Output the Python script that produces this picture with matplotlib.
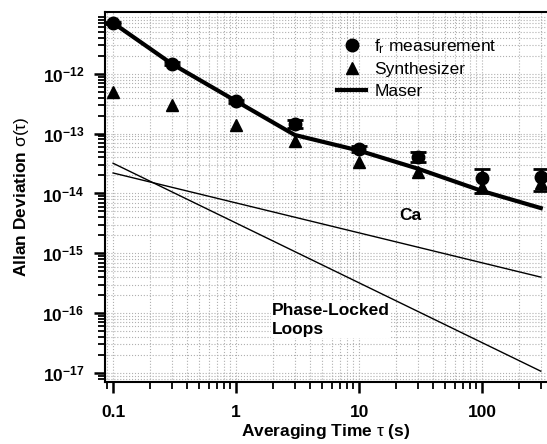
import numpy as np
import matplotlib
matplotlib.use("Agg")
import matplotlib.pyplot as plt
from matplotlib.lines import Line2D
from matplotlib.ticker import FixedLocator, LogLocator, NullFormatter, FuncFormatter

plt.rcParams['font.family'] = ['Liberation Sans', 'DejaVu Sans']
plt.rcParams['mathtext.fontset'] = 'custom'
plt.rcParams['mathtext.rm'] = 'Liberation Sans'
plt.rcParams['mathtext.bf'] = 'Liberation Sans:bold'
plt.rcParams['mathtext.it'] = 'Liberation Sans:italic'

# ---- data ----
tau = [0.1, 0.3, 1, 3, 10, 30, 100, 300]
fr_meas = [7.1e-12, 1.47e-12, 3.5e-13, 1.47e-13, 5.6e-14, 4.0e-14, 1.8e-14, 1.85e-14]
fr_err_lo = [0.3e-12, 0.08e-12, 0.2e-13, 0.22e-13, 0.6e-14, 0.7e-14, 0.8e-14, 0.75e-14]
fr_err_hi = [0.3e-12, 0.08e-12, 0.2e-13, 0.22e-13, 0.7e-14, 1.0e-14, 0.8e-14, 0.75e-14]
synth = [5.0e-13, 3.0e-13, 1.4e-13, 7.5e-14, 3.4e-14, 2.3e-14, 1.3e-14, 1.5e-14]
maser = [7.1e-12, 1.47e-12, 3.5e-13, 9.5e-14, 5.2e-14, 2.6e-14, 1.1e-14, 5.7e-15]
ca_tau = [0.1, 300]
ca_vals = [2.2e-14, 4.0e-16]
pll_tau = [0.1, 300]
pll_vals = [3.2e-14, 1.07e-17]
xticks = [0.1, 1, 10, 100]
xticklabels = ['0.1', '1', '10', '100']
yticks = [1e-17, 1e-16, 1e-15, 1e-14, 1e-13, 1e-12]
legend_labels = [r'f$_\mathrm{r}$ measurement', 'Synthesizer', 'Maser']

fig = plt.figure(figsize=(5.47, 4.44), dpi=100)
ax = fig.add_axes([0.192, 0.140, 0.808, 0.833])
ax.set_xscale('log')
ax.set_yscale('log')
ax.set_xlim(0.086, 337)
ax.set_ylim(7.1e-18, 1.08e-11)

ax.grid(True, which='both', color='#b0b0b0', linestyle=':', linewidth=0.8)
ax.set_axisbelow(True)

ax.plot(ca_tau, ca_vals, color='black', lw=1.0)
ax.plot(pll_tau, pll_vals, color='black', lw=1.0)
ax.plot(tau, maser, color='black', lw=3.0, zorder=3)
ax.plot(tau, synth, linestyle='none', marker='^', color='black', markersize=8, zorder=4)
ax.errorbar(tau, fr_meas, yerr=[fr_err_lo, fr_err_hi], fmt='o', color='black',
            markersize=9, capsize=6, capthick=2, elinewidth=2, zorder=5)

for s in ['left', 'bottom', 'top']:
    ax.spines[s].set_linewidth(1.5)
ax.spines['right'].set_visible(False)

ax.xaxis.set_major_locator(FixedLocator(xticks))
ax.set_xticklabels(xticklabels)
ax.xaxis.set_minor_locator(LogLocator(base=10, subs=np.arange(2, 10)))
ax.xaxis.set_minor_formatter(NullFormatter())
ax.yaxis.set_major_locator(FixedLocator(yticks))
ax.yaxis.set_major_formatter(FuncFormatter(lambda v, p: r'$\mathbf{10^{%d}}$' % int(round(np.log10(v)))))
ax.yaxis.set_minor_locator(LogLocator(base=10, subs=np.arange(2, 10), numticks=20))
ax.yaxis.set_minor_formatter(NullFormatter())

ax.tick_params(axis='both', which='major', direction='out', length=8, width=1.8, labelsize=12.5)
ax.tick_params(axis='both', which='minor', direction='out', length=5, width=1.3)
ax.tick_params(axis='x', which='major', pad=9)
ax.tick_params(axis='y', which='major', pad=7)
for lab in ax.get_xticklabels():
    lab.set_fontweight('bold')

ax.set_xlabel(r'Averaging Time $\mathrm{\tau}$ (s)', fontsize=12.5, fontweight='bold', labelpad=1)
ax.set_ylabel(r'Allan Deviation $\mathrm{\sigma(\tau)}$', fontsize=12.5, fontweight='bold', labelpad=8)

handles = [Line2D([], [], linestyle='none', marker='o', color='black', markersize=9),
           Line2D([], [], linestyle='none', marker='^', color='black', markersize=8),
           Line2D([], [], color='black', lw=3.0)]
leg = ax.legend(handles, legend_labels,
                loc='upper left', bbox_to_anchor=(0.497, 0.964), fontsize=12.5,
                frameon=False, handlelength=1.7, handletextpad=0.45, labelspacing=0.35, borderpad=0.2)

ax.text(410, 229, 'Ca', transform=None, fontsize=12.5, fontweight='bold', ha='center', va='center')
ax.text(272 / 547, 1 - 320 / 444, 'Phase-Locked\nLoops', fontsize=12.5, fontweight='bold',
        ha='left', va='center', linespacing=1.3, transform=fig.transFigure,
        bbox=dict(facecolor='white', edgecolor='none', pad=1))

fig.savefig('out.png', dpi=100)
